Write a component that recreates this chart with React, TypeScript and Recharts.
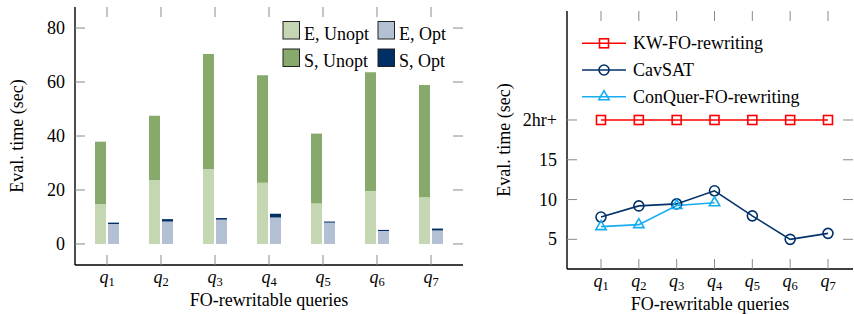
import React from 'react';
import { BarChart, Bar, LineChart, Line, XAxis, YAxis, Legend, Label } from 'recharts';

// categories
const queries = ['1', '2', '3', '4', '5', '6', '7'];

// left chart: E / S times (sec), stacked
const eUnopt = [14.8, 23.7, 27.8, 22.7, 15.0, 19.6, 17.3];
const sUnopt = [23.1, 23.8, 42.6, 39.8, 25.9, 44.0, 41.6];
const eOpt = [7.4, 8.3, 9.0, 9.8, 7.9, 4.8, 5.0];
const sOpt = [0.5, 0.9, 0.6, 1.4, 0.4, 0.4, 0.7];
const barTicks = [0, 20, 40, 60, 80];

// right chart: eval time, 20 means "2hr+"
const kwFo = [20, 20, 20, 20, 20, 20, 20];
const cavsat = [7.8, 9.2, 9.45, 11.1, 7.95, 5.0, 5.75];
const conquer = [6.6, 6.85, 9.25, 9.6, null, null, null];
const lineTicks = [5, 10, 15, 20];
const lineTickLabels: Record<number, string> = { 5: '5', 10: '10', 15: '15', 20: '2hr+' };

const barData = queries.map((q, i) => ({
  q,
  eUnopt: eUnopt[i],
  sUnopt: sUnopt[i],
  eOpt: eOpt[i],
  sOpt: sOpt[i],
}));

const lineData = queries.map((q, i) => ({
  q,
  kw: kwFo[i],
  cavsat: cavsat[i],
  conquer: conquer[i],
}));

const FONT = '"Liberation Serif", "Times New Roman", serif';
const TICK = '#8a8a8a';
const RED = '#ff0000';
const NAVY = '#00316a';
const CYAN = '#16adef';

const barSeries = [
  { key: 'eUnopt', name: 'E, Unopt', color: '#c4d7b2' },
  { key: 'eOpt', name: 'E, Opt', color: '#b3c0d3' },
  { key: 'sUnopt', name: 'S, Unopt', color: '#87a96b' },
  { key: 'sOpt', name: 'S, Opt', color: '#002f66' },
];

// plot boxes (inside each chart's svg)
const LB = { left: 75, top: 7, right: 463, bottom: 265 };
const RB = { left: 97, top: 11, right: 383, bottom: 269 };

const makeXTick = (box: typeof LB) => (props: any) => {
  const { x, payload } = props;
  return (
    <g>
      <line x1={x} x2={x} y1={box.bottom} y2={box.bottom - 10} stroke={TICK} />
      <line x1={x} x2={x} y1={box.top} y2={box.top + 10} stroke={TICK} />
      <text x={x} y={box.bottom + 18} textAnchor="middle" fontFamily={FONT} fontSize={18} fill="#000">
        <tspan fontStyle="italic">q</tspan>
        <tspan fontSize={12.5} dy={3}>{payload.value}</tspan>
      </text>
    </g>
  );
};

const makeYTick = (box: typeof LB, fmt: (v: number) => string) => (props: any) => {
  const { y, payload } = props;
  return (
    <g>
      <line x1={box.left} x2={box.left + 10} y1={y} y2={y} stroke={TICK} />
      <line x1={box.right} x2={box.right - 10} y1={y} y2={y} stroke={TICK} />
      <text x={box.left - 10} y={y + 6} textAnchor="end" fontFamily={FONT} fontSize={18} fill="#000">
        {fmt(payload.value)}
      </text>
    </g>
  );
};

const BarLegend = () => (
  <svg width={470} height={80} style={{ display: 'block' }}>
    {barSeries.map((s, i) => {
      const col = i % 2;
      const row = Math.floor(i / 2);
      const bx = 283 + col * 95;
      const by = 21.5 + row * 27.5;
      return (
        <g key={s.key}>
          <rect x={bx} y={by} width={16.5} height={17.5} fill={s.color} stroke="#222" strokeWidth={1} />
          <text x={bx + 21} y={40.3 + row * 26.7} fontFamily={FONT} fontSize={18} fill="#000">
            {s.name}
          </text>
        </g>
      );
    })}
  </svg>
);

const Square = ({ cx, cy, color }: any) => (
  <rect x={cx - 4.5} y={cy - 4.5} width={9} height={9} fill="none" stroke={color} strokeWidth={1.6} />
);
const Circle = ({ cx, cy, color }: any) => (
  <circle cx={cx} cy={cy} r={5} fill="none" stroke={color} strokeWidth={1.6} />
);
const Triangle = ({ cx, cy, color }: any) => (
  <path
    d={`M${cx},${cy - 6} L${cx + 5.2},${cy + 3} L${cx - 5.2},${cy + 3} Z`}
    fill="none"
    stroke={color}
    strokeWidth={1.6}
  />
);

const lineSeries = [
  { key: 'kw', name: 'KW-FO-rewriting', color: RED, Mark: Square },
  { key: 'cavsat', name: 'CavSAT', color: NAVY, Mark: Circle },
  { key: 'conquer', name: 'ConQuer-FO-rewriting', color: CYAN, Mark: Triangle },
];

const dotFor = (Mark: any, color: string) => (p: any) => {
  if (p.cx == null || p.cy == null || p.value == null) return <g key={p.key ?? p.index} />;
  return (
    <g key={p.key ?? p.index}>
      <Mark cx={p.cx} cy={p.cy} color={color} />
    </g>
  );
};

const LineLegend = () => (
  <svg width={384} height={120} style={{ display: 'block' }}>
    {lineSeries.map((s, i) => {
      const cy = 43.3 + i * 26.7;
      return (
        <g key={s.key}>
          <line x1={112} x2={156} y1={cy} y2={cy} stroke={s.color} strokeWidth={1.6} />
          <s.Mark cx={134} cy={cy} color={s.color} />
          <text x={163} y={cy + 6} fontFamily={FONT} fontSize={18} fill="#000">
            {s.name}
          </text>
        </g>
      );
    })}
  </svg>
);

const yTitle = (x: number, cy: number) => () => (
  <text
    x={x}
    y={cy}
    transform={`rotate(-90 ${x} ${cy})`}
    textAnchor="middle"
    fontFamily={FONT}
    fontSize={18}
    fill="#000"
  >
    Eval. time (sec)
  </text>
);

const xTitle = (cx: number, y: number) => () => (
  <text x={cx} y={y} textAnchor="middle" fontFamily={FONT} fontSize={18} fill="#000">
    FO-rewritable queries
  </text>
);

export default function App() {
  return (
    <div style={{ position: 'absolute', left: 0, top: 0, width: 854, height: 314, display: 'flex', background: '#fff' }}>
      <BarChart
        width={470}
        height={314}
        data={barData}
        margin={{ top: LB.top, right: 470 - LB.right, bottom: 0, left: 0 }}
        barSize={11}
        barGap={2}
      >
        <XAxis
          dataKey="q"
          height={314 - LB.bottom}
          padding={{ left: 5, right: 5 }}
          tickLine={false}
          tickSize={0}
          tickMargin={0}
          axisLine={{ stroke: '#000', strokeWidth: 1.4 }}
          tick={makeXTick(LB)}
          interval={0}
        >
          <Label content={xTitle(269, 306)} />
        </XAxis>
        <XAxis xAxisId="top" dataKey="q" orientation="top" height={0} tick={false} tickLine={false} axisLine={{ stroke: '#000', strokeWidth: 1.4 }} />
        <YAxis
          width={LB.left}
          type="number"
          domain={[-7.8, 87.8]}
          ticks={barTicks}
          allowDataOverflow
          tickLine={false}
          tickSize={0}
          tickMargin={0}
          axisLine={{ stroke: '#000', strokeWidth: 1.4 }}
          tick={makeYTick(LB, (v) => String(v))}
          interval={0}
        >
          <Label content={yTitle(23, (LB.top + LB.bottom) / 2)} />
        </YAxis>
        <YAxis yAxisId="right" orientation="right" width={0} type="number" domain={[-7.8, 87.8]} allowDataOverflow tick={false} tickLine={false} axisLine={{ stroke: '#000', strokeWidth: 1.4 }} />
        <Bar dataKey="eUnopt" stackId="u" fill="#c4d7b2" isAnimationActive={false} />
        <Bar dataKey="sUnopt" stackId="u" fill="#87a96b" isAnimationActive={false} />
        <Bar dataKey="eOpt" stackId="o" fill="#b3c0d3" isAnimationActive={false} />
        <Bar dataKey="sOpt" stackId="o" fill="#002f66" isAnimationActive={false} />
        <Legend layout="horizontal" verticalAlign="middle" align="center" content={BarLegend} wrapperStyle={{ left: 0, top: 0, width: 470, height: 80 }} />
      </BarChart>

      <LineChart
        width={384}
        height={314}
        data={lineData}
        margin={{ top: RB.top, right: 384 - RB.right, bottom: 0, left: 0 }}
      >
        <XAxis
          dataKey="q"
          height={314 - RB.bottom}
          padding={{ left: 34, right: 25 }}
          tickLine={false}
          tickSize={0}
          tickMargin={0}
          axisLine={{ stroke: '#000', strokeWidth: 1.4 }}
          tick={makeXTick(RB)}
          interval={0}
        >
          <Label content={xTitle(RB.left + (RB.right - RB.left) / 2, 310)} />
        </XAxis>
        <XAxis xAxisId="top" dataKey="q" orientation="top" height={0} tick={false} tickLine={false} axisLine={{ stroke: '#000', strokeWidth: 1.4 }} />
        <YAxis
          width={RB.left}
          type="number"
          domain={[1.27, 33.7]}
          ticks={lineTicks}
          allowDataOverflow
          tickLine={false}
          tickSize={0}
          tickMargin={0}
          axisLine={{ stroke: '#000', strokeWidth: 1.4 }}
          tick={makeYTick(RB, (v) => lineTickLabels[v] ?? String(v))}
          interval={0}
        >
          <Label content={yTitle(40, (RB.top + RB.bottom) / 2)} />
        </YAxis>
        <YAxis yAxisId="right" orientation="right" width={0} type="number" domain={[1.27, 33.7]} allowDataOverflow tick={false} tickLine={false} axisLine={{ stroke: '#000', strokeWidth: 1.4 }} />
        {lineSeries.map((s) => (
          <Line
            key={s.key}
            dataKey={s.key}
            stroke={s.color}
            strokeWidth={1.6}
            dot={dotFor(s.Mark, s.color)}
            activeDot={false}
            connectNulls={false}
            isAnimationActive={false}
          />
        ))}
        <Legend layout="horizontal" verticalAlign="middle" align="center" content={LineLegend} wrapperStyle={{ left: 0, top: 0, width: 384, height: 120 }} />
      </LineChart>
    </div>
  );
}
